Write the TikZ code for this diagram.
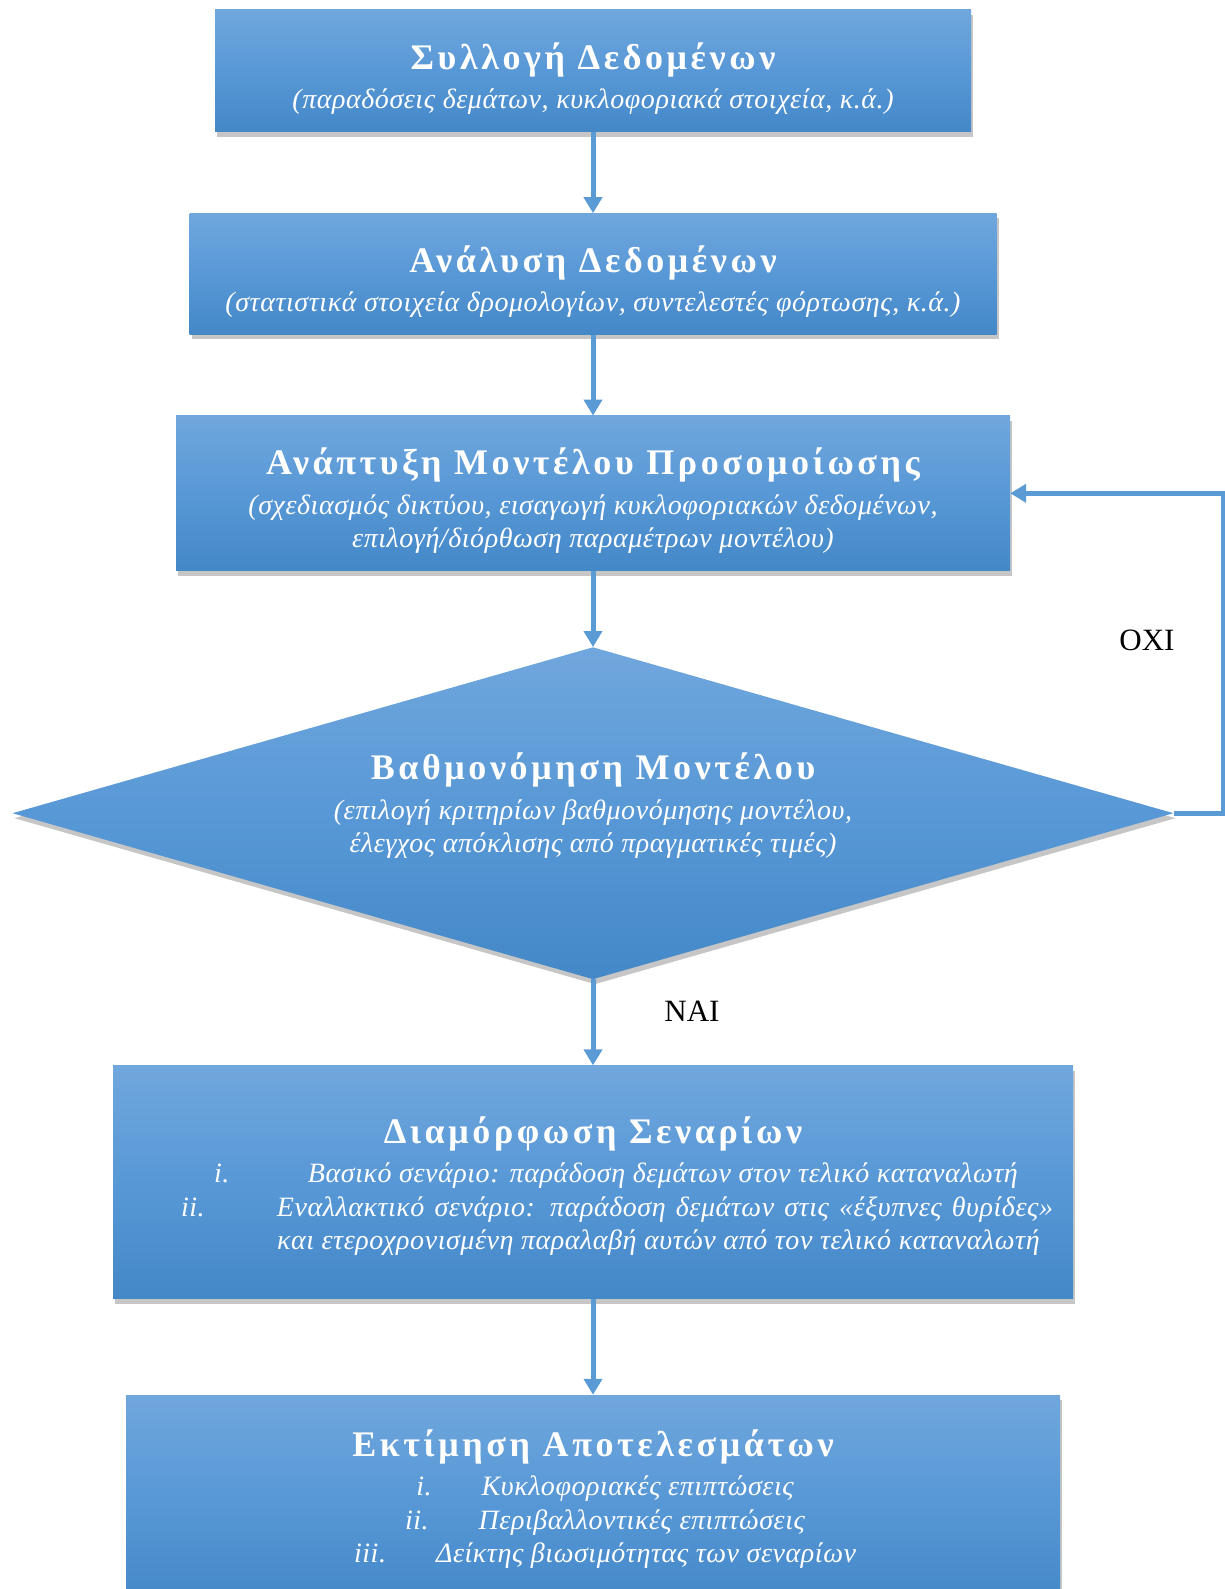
\documentclass[tikz,border=0pt]{standalone}
\usepackage{fontspec}
\setmainfont{Liberation Serif}
\newfontfamily\titleserif[LetterSpace=10]{Liberation Serif}
\newfontfamily\noteserif[LetterSpace=2]{Liberation Serif}
\usetikzlibrary{positioning,shapes.geometric,shadows,arrows.meta}

\definecolor{boxtop}{RGB}{112,167,221}
\definecolor{boxmid}{RGB}{88,152,214}
\definecolor{boxbot}{RGB}{68,136,200}
\definecolor{flowline}{RGB}{91,155,213}

\newcommand\steptitle{\titleserif\upshape\bfseries\fontsize{36}{40}\selectfont}

\begin{document}
\begin{tikzpicture}[x=1pt,y=1pt,
    stepbox/.style={rectangle, top color=boxtop, bottom color=boxbot, middle color=boxmid,
      text=white, align=center, inner sep=0pt,
      font=\noteserif\itshape\fontsize{28}{33.5}\selectfont,
      drop shadow={shadow xshift=2pt, shadow yshift=-5pt, opacity=0.45}},
    decision/.style={stepbox, diamond, shape aspect=3.5},
    flow/.style={draw=flowline, line width=5pt, -{Triangle[width=18pt,length=16pt]}},
    answer/.style={font=\fontsize{31}{34}\selectfont}]
    \useasboundingbox (0,0) rectangle (1225,-1589);

    \node[stepbox, minimum width=756pt, minimum height=122pt] (collect) at (593,-71)
      {{\steptitle\rule{0pt}{42pt}Συλλογή Δεδομένων}\\[6pt]
       (παραδόσεις δεμάτων, κυκλοφοριακά στοιχεία, κ.ά.)};
    \node[stepbox, minimum width=807pt, minimum height=121pt, below=81pt of collect] (analyse)
      {{\steptitle\rule{0pt}{42pt}Ανάλυση Δεδομένων}\\[6pt]
       (στατιστικά στοιχεία δρομολογίων, συντελεστές φόρτωσης, κ.ά.)};
    \node[stepbox, minimum width=834pt, minimum height=155pt, below=81pt of analyse] (model)
      {{\steptitle\rule{0pt}{42pt}Ανάπτυξη Μοντέλου Προσομοίωσης}\\[6pt]
       (σχεδιασμός δικτύου, εισαγωγή κυκλοφοριακών δεδομένων,\\
       επιλογή/διόρθωση παραμέτρων μοντέλου)};
    \node[decision, minimum width=1161pt, minimum height=332pt, below=76pt of model] (calib)
      {{\steptitle Βαθμονόμηση Μοντέλου}\\[6pt]
       (επιλογή κριτηρίων βαθμονόμησης μοντέλου,\\
       έλεγχος απόκλισης από πραγματικές τιμές)\rule[-21pt]{0pt}{0pt}};
    \node[stepbox, minimum width=960pt, minimum height=233pt, below=86pt of calib] (scen)
      {{\steptitle\rule{0pt}{35pt}Διαμόρφωση Σεναρίων}\\[6pt]
       \makebox[824pt][l]{\hspace*{33pt}\makebox[94pt][l]{i.}Βασικό σενάριο: παράδοση δεμάτων στον τελικό καταναλωτή}\\
       \makebox[824pt][l]{\makebox[96pt][l]{ii.}\makebox[776pt][s]{Εναλλακτικό σενάριο: παράδοση δεμάτων στις «έξυπνες θυρίδες»}}\\
       \makebox[824pt][l]{\hspace*{96pt}και ετεροχρονισμένη παραλαβή αυτών από τον τελικό καταναλωτή}};
    \node[stepbox, minimum width=934pt, minimum height=208pt, below=96pt of scen] (eval)
      {{\steptitle Εκτίμηση Αποτελεσμάτων}\\[6pt]
       \hspace*{24pt}i.\hspace{50pt}Κυκλοφοριακές επιπτώσεις\\
       \hspace*{24pt}ii.\hspace{50pt}Περιβαλλοντικές επιπτώσεις\\
       \hspace*{24pt}iii.\hspace{50pt}Δείκτης βιωσιμότητας των σεναρίων};

    \node[answer] (no) at (1147,-640) {ΟΧΙ};
    \node[answer] (yes) at (692,-1011) {ΝΑΙ};

    \draw[flow] (collect) -- (analyse);
    \draw[flow] (analyse) -- (model);
    \draw[flow] (model) -- (calib);
    \draw[flow] (calib) -- (scen);
    \draw[flow] (scen) -- (eval);
    \draw[flow] (calib.east) -- ++(50,0) |- (model.east);

\end{tikzpicture}
\end{document}
